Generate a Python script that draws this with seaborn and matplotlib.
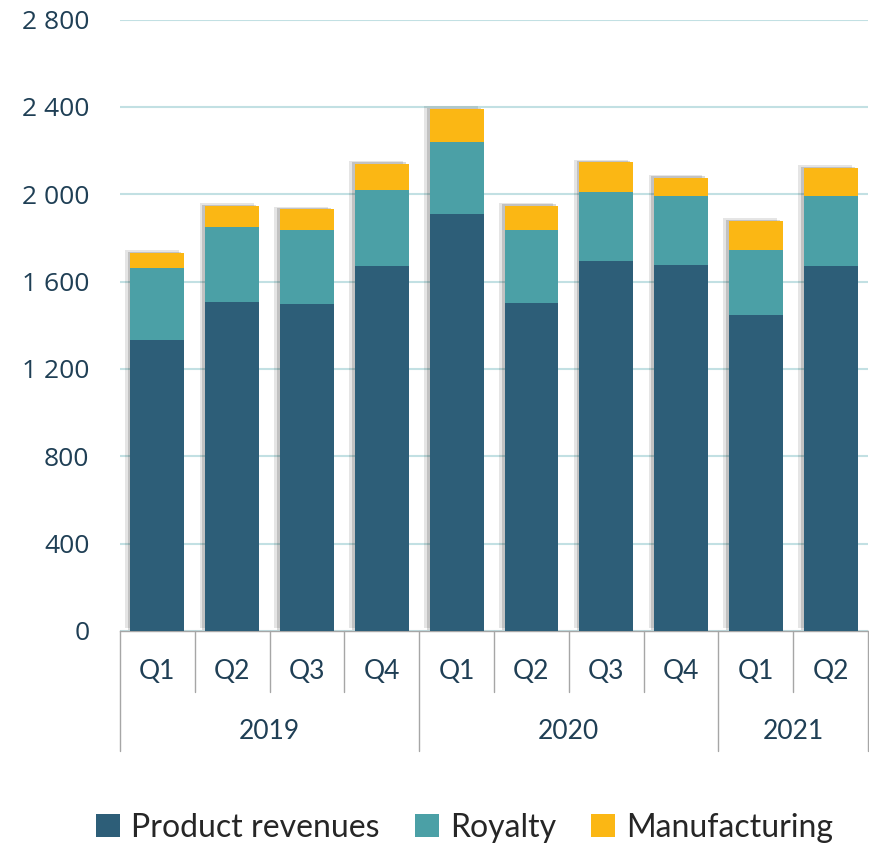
import numpy as np
import pandas as pd
import matplotlib
matplotlib.use('Agg')
import matplotlib.pyplot as plt
import matplotlib.patheffects as pe
from matplotlib.patches import Patch
import seaborn as sns

quarters = ['Q1', 'Q2', 'Q3', 'Q4', 'Q1', 'Q2', 'Q3', 'Q4', 'Q1', 'Q2']
years = ['2019', '2020', '2021']
quarters_per_year = [4, 4, 2]
product = [1330, 1507, 1496, 1673, 1910, 1503, 1696, 1678, 1449, 1672]
royalty = [331, 343, 341, 348, 331, 334, 313, 314, 297, 319]
manufacturing = [69, 96, 93, 118, 148, 111, 137, 84, 130, 129]
series_names = ['Product revenues', 'Royalty', 'Manufacturing']
y_ticks = [0, 400, 800, 1200, 1600, 2000, 2400, 2800]

colors = {'Product revenues': '#2d5e78', 'Royalty': '#4ba0a6', 'Manufacturing': '#fbb714'}
text_col = '#1f3f55'
grid_col = '#c2e0e3'

df = pd.DataFrame({'period': range(len(quarters)), 'product': product,
                   'royalty': royalty, 'manufacturing': manufacturing})
df['lvl1'] = df['product']
df['lvl2'] = df['product'] + df['royalty']
df['lvl3'] = df['lvl2'] + df['manufacturing']

sns.set_style('white')
plt.rcParams['font.family'] = ['Lato', 'DejaVu Sans']

fig = plt.figure(figsize=(8.69, 8.48), dpi=100)
ax = fig.add_axes([0.138, 0.256, 0.861, 0.721])

for col, name in zip(['lvl3', 'lvl2', 'lvl1'], series_names[::-1]):
    sns.barplot(data=df, x='period', y=col, color=colors[name], width=0.72,
                saturation=1, ax=ax, zorder=3, edgecolor='none', linewidth=0)

# soft drop shadow on the tallest layer only
shadow = [pe.SimplePatchShadow(offset=(-4, 2), shadow_rgbFace='#000000', alpha=0.10),
          pe.SimplePatchShadow(offset=(-2, 1), shadow_rgbFace='#000000', alpha=0.15),
          pe.Normal()]
for p in ax.patches[:len(quarters)]:
    p.set_path_effects(shadow)

ax.set_ylim(0, 2800)
ax.set_xlim(-0.5, len(quarters) - 0.5)
ax.set_yticks(y_ticks)
ax.set_yticklabels([f'{v:,}'.replace(',', ' ') for v in y_ticks],
                   fontsize=19, color=text_col, family=['Open Sans', 'DejaVu Sans'])
ax.yaxis.grid(True, color=grid_col, lw=1.5, zorder=0)
ax.set_axisbelow(True)
ax.tick_params(axis='y', length=0, pad=22)
ax.set_xlabel('')
ax.set_ylabel('')
ax.set_xticks(range(len(quarters)))
ax.set_xticklabels([])
ax.tick_params(axis='x', length=0)
for s in ['top', 'right', 'left']:
    ax.spines[s].set_visible(False)
ax.spines['bottom'].set_color('#a6a6a6')
ax.spines['bottom'].set_linewidth(1)

trans = matplotlib.transforms.blended_transform_factory(ax.transData, ax.transAxes)
for i, q in enumerate(quarters):
    ax.text(i, -0.067, q, transform=trans, ha='center', va='center',
            fontsize=19, color=text_col)

# separators between quarters / years
year_edges = np.concatenate([[0], np.cumsum(quarters_per_year)])
for k in range(len(quarters) + 1):
    x = k - 0.5
    depth = -0.197 if k in year_edges else -0.1
    ax.plot([x, x], [0, depth], transform=trans, color='#a6a6a6', lw=1, clip_on=False)
for y, a, b in zip(years, year_edges[:-1], year_edges[1:]):
    ax.text((a + b - 1) / 2, -0.165, y, transform=trans, ha='center', va='center',
            fontsize=19, color=text_col)

handles = [Patch(facecolor=colors[n], edgecolor='none') for n in series_names]
fig.legend(handles, series_names, loc='center', bbox_to_anchor=(0.535, 0.024), ncol=3,
           frameon=False, fontsize=23, handlelength=0.75, handleheight=0.75,
           handletextpad=0.35, columnspacing=1.1)

fig.savefig('out.png', dpi=100)
